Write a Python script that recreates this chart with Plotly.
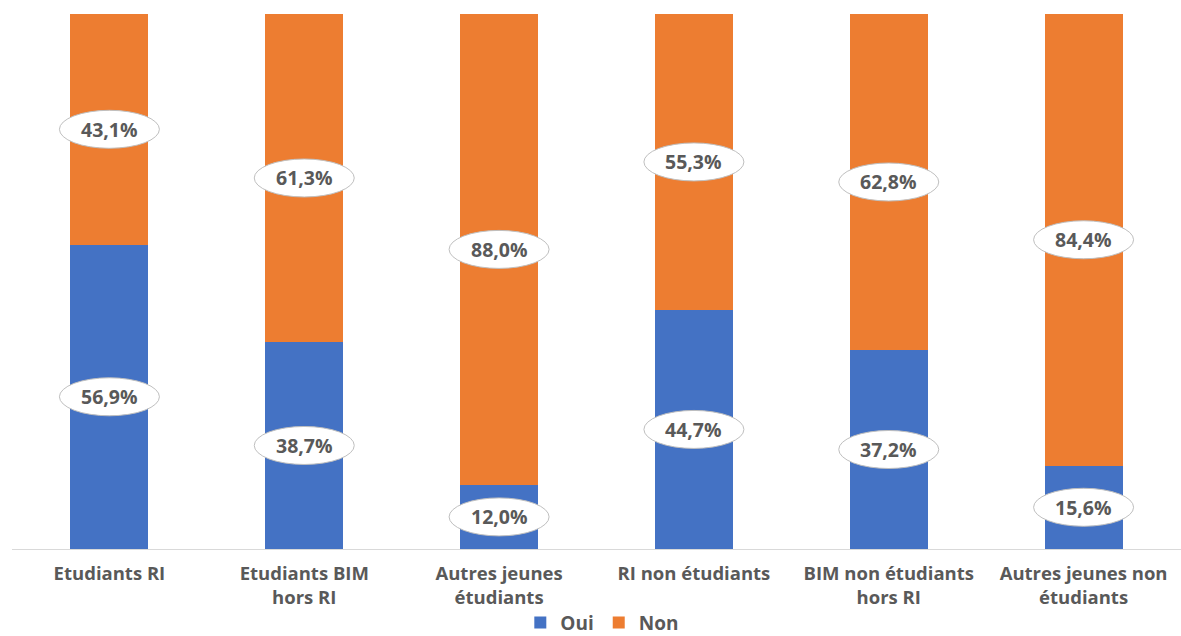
import plotly.graph_objects as go

categories = ["Etudiants RI", "Etudiants BIM<br>hors RI", "Autres jeunes<br>étudiants",
              "RI non étudiants", "BIM non étudiants<br>hors RI", "Autres jeunes non<br>étudiants"]
oui = [56.9, 38.7, 12.0, 44.7, 37.2, 15.6]
non = [43.1, 61.3, 88.0, 55.3, 62.8, 84.4]
series_names = ["Oui", "Non"]

BLUE = "#4472C4"
ORANGE = "#ED7D31"
GREY = "#595959"
FONT = "Open Sans"

fig = go.Figure()
fig.add_trace(go.Bar(x=categories, y=oui, name=series_names[0], marker=dict(color=BLUE, line=dict(width=0))))
fig.add_trace(go.Bar(x=categories, y=non, name=series_names[1], marker=dict(color=ORANGE, line=dict(width=0))))

def fmt(v):
    return f"{v:.1f}".replace(".", ",") + "%"

shapes = []
annotations = []
for i in range(len(categories)):
    centers = [(oui[i] / 2, oui[i]), (oui[i] + non[i] / 2, non[i])]
    for yc, v in centers:
        shapes.append(dict(type="circle", xref="x", yref="y", xsizemode="pixel", ysizemode="pixel",
                           xanchor=i, yanchor=yc, x0=-50, x1=50, y0=-19, y1=19,
                           line=dict(color="#BFBFBF", width=1), fillcolor="white", layer="above"))
        annotations.append(dict(x=i, y=yc, xref="x", yref="y", text=fmt(v), showarrow=False,
                                font=dict(family=FONT, size=19.5, color=GREY, weight="bold")))

fig.update_layout(
    barmode="stack",
    bargap=0.6,
    width=1181, height=636,
    margin=dict(l=12, r=0, t=14, b=87),
    paper_bgcolor="white", plot_bgcolor="white",
    shapes=shapes, annotations=annotations,
    showlegend=True,
    legend=dict(orientation="h", x=0.51, xanchor="center", xref="container",
                y=0.021, yanchor="middle", yref="container",
                font=dict(family=FONT, size=19, color=GREY, weight="bold"),
                traceorder="normal"),
    xaxis=dict(showline=True, linecolor="#D9D9D9", linewidth=1, ticks="", showgrid=False,
               automargin=False, ticklabelstandoff=8,
               tickfont=dict(family=FONT, size=18.5, color=GREY, weight="bold")),
    yaxis=dict(range=[0, 100], visible=False, showgrid=False, automargin=False),
)

fig.write_html("out.html")
